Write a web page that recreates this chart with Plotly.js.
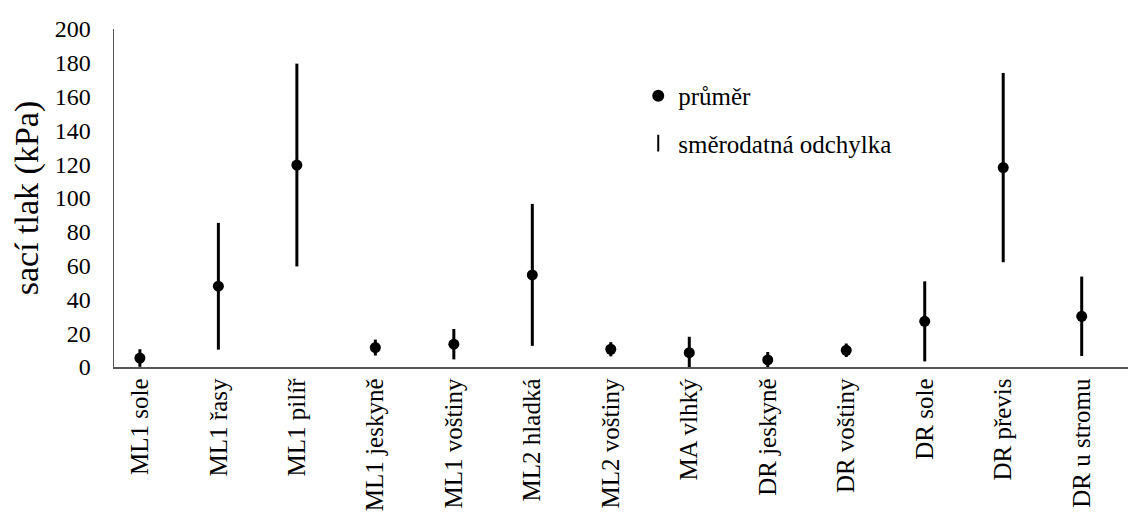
<!DOCTYPE html>
<html>
<head>
<meta charset="utf-8">
<script src="https://cdn.plot.ly/plotly-3.0.1.min.js"></script>
<style>html,body{margin:0;padding:0;background:#fff;}#chart{width:1130px;height:517px;}</style>
</head>
<body>
<div id="chart"></div>
<script>
const categories = ['ML1 sole','ML1 řasy','ML1 pilíř','ML1 jeskyně','ML1 voštiny','ML2 hladká','ML2 voštiny','MA vlhký','DR jeskyně','DR voštiny','DR sole','DR převis','DR u stromu'];
const means = [5.3, 47.8, 119.5, 11.5, 13.5, 54.5, 10.5, 8.5, 4.2, 9.9, 27, 118, 30];
const stdDevs = [5.2, 37.5, 60, 4.7, 9, 42, 4.2, 9.4, 4.7, 4, 23.7, 56, 23.5];
const yTicks = [0,20,40,60,80,100,120,140,160,180,200];

const FONT = '"Liberation Serif", "Times New Roman", serif';

const sdTrace = {
  type: 'scatter', mode: 'markers', name: 'směrodatná odchylka',
  x: categories, y: means,
  marker: {symbol: 'line-ns-open', size: 0.1, color: '#000', line: {width: 3, color: '#000'}},
  error_y: {type: 'data', array: stdDevs, visible: true, color: '#000', thickness: 3, width: 0},
  cliponaxis: false, legendgroup: 'b', hoverinfo: 'skip'
};
const meanTrace = {
  type: 'scatter', mode: 'markers', name: 'průměr',
  x: categories, y: means,
  marker: {symbol: 'circle', size: 11, color: '#000'},
  cliponaxis: false, legendgroup: 'a'
};

const layout = {
  width: 1130, height: 517,
  margin: {l: 114, r: 2, t: 29, b: 150},
  paper_bgcolor: '#fff', plot_bgcolor: '#fff',
  font: {family: FONT, color: '#000'},
  showlegend: true,
  legend: {
    x: 0.517, y: 0.87, xanchor: 'left', yanchor: 'top',
    font: {family: FONT, size: 25, color: '#000'},
    itemsizing: 'constant', tracegroupgap: 12,
    traceorder: 'grouped', bgcolor: 'rgba(0,0,0,0)'
  },
  xaxis: {
    type: 'category', range: [-0.33, 12.59],
    showline: true, linecolor: '#555', linewidth: 1.5,
    showgrid: false, zeroline: false, ticks: '',
    tickangle: -90, tickfont: {family: FONT, size: 25, color: '#000'},
    fixedrange: true
  },
  yaxis: {
    range: [0, 200], tickvals: yTicks, ticktext: yTicks.map(String),
    showline: true, linecolor: '#555', linewidth: 1.5,
    showgrid: false, zeroline: false, ticks: '',
    ticklabelstandoff: 17,
    tickfont: {family: FONT, size: 24, color: '#000'},
    title: {text: 'sací tlak (kPa)', font: {family: FONT, size: 34, color: '#000'}, standoff: 6},
    fixedrange: true
  }
};

Plotly.newPlot('chart', [meanTrace, sdTrace], layout, {displayModeBar: false, staticPlot: true});
</script>
</body>
</html>
